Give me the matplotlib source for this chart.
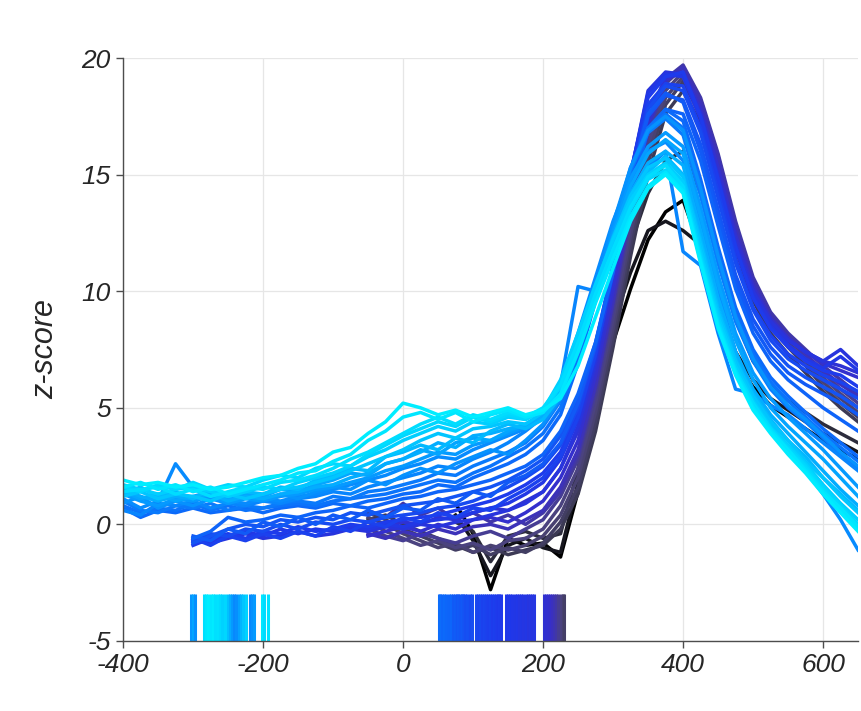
import matplotlib.pyplot as plt
import numpy as np
from matplotlib.colors import LinearSegmentedColormap

plt.rcParams['axes.unicode_minus'] = False
plt.rcParams['font.family'] = ['Liberation Sans', 'DejaVu Sans']

step = 25

# black traces, start at x = 75
black_start = 75
black_shade = [0.0, 0.04, 0.08]
black = [
    [0.9, -0.4, -2.8, -0.6, -0.9, -0.8, -1.4,
     1.4, 4.8, 7.8, 10.1, 12.2, 13.4, 13.9, 11.8, 9.2, 7.0, 5.9, 5.1, 4.6, 4.1, 3.6, 3.2, 2.8],
    [0.4, -0.7, -2.2, -0.9, -0.6, -1.0, -1.2,
     1.8, 5.4, 8.6, 10.8, 12.6, 13.0, 12.6, 12.0, 9.6, 7.4, 6.2, 5.4, 4.9, 4.4, 3.9, 3.5, 3.1],
    [0.1, -0.3, -1.6, -0.5, -0.3, -0.6, -0.4,
     2.4, 6.0, 9.2, 12.0, 14.2, 15.6, 16.0, 14.2, 11.4, 8.8, 7.0, 6.0, 5.3, 4.8, 4.3, 3.9, 3.5],
]

# purple traces, start at x = -50
purple_start = -50
purple_shade = [0.12, 0.15, 0.18, 0.21, 0.24, 0.27, 0.30, 0.34, 0.37]
purple = [
    [0.2, 0.4, 0.0, -0.3, -0.6, -0.9, -1.2, -1.0, -1.3, -1.1, -0.9,
     -0.2, 1.3, 4.0, 7.6, 11.5, 15.0, 17.6, 18.6, 17.2, 14.8, 11.8, 9.6, 8.2, 7.3, 6.5, 5.7, 5.0, 4.4],
    [0.5, 0.2, -0.2, -0.5, -0.8, -1.1, -0.9, -1.3, -1.0, -1.2, -0.8,
     0.1, 1.6, 4.4, 8.0, 12.0, 15.5, 18.0, 19.0, 17.5, 15.1, 12.1, 9.9, 8.5, 7.6, 6.8, 5.9, 5.2, 4.6],
    [0.3, 0.0, -0.4, -0.7, -1.0, -0.8, -1.2, -0.9, -1.1, -0.9, -0.5,
     0.4, 2.0, 4.8, 8.4, 12.4, 15.9, 18.3, 19.2, 17.8, 15.4, 12.4, 10.1, 8.7, 7.8, 7.0, 6.1, 5.4, 4.8],
    [0.1, -0.3, -0.6, -0.9, -0.7, -1.0, -0.8, -1.1, -0.7, -0.6, -0.2,
     0.8, 2.4, 5.2, 8.8, 12.8, 16.3, 18.6, 19.4, 18.0, 15.6, 12.6, 10.3, 8.9, 8.0, 7.2, 6.3, 5.6, 5.0],
    [-0.2, -0.5, -0.7, -0.4, -0.6, -0.8, -0.5, -0.3, -0.6, -0.2, 0.2,
     1.2, 2.8, 5.6, 9.2, 13.2, 16.7, 18.9, 19.6, 18.2, 15.8, 12.8, 10.4, 9.0, 8.1, 7.3, 6.5, 5.8, 5.2],
    [0.6, 0.3, 0.9, 0.4, 0.7, 0.2, 0.5, 0.1, 0.4, 0.0, 0.5,
     1.4, 3.0, 5.9, 9.5, 13.5, 16.9, 19.1, 19.7, 18.3, 15.9, 13.0, 10.6, 9.1, 8.2, 7.5, 6.8, 6.2, 5.6],
    [-0.4, -0.6, -0.3, -0.5, -0.2, -0.4, -0.1, 0.0, -0.2, 0.2, 0.6,
     1.6, 3.2, 6.0, 9.6, 13.6, 17.0, 19.0, 19.6, 18.1, 15.7, 12.7, 10.4, 8.9, 8.0, 7.3, 6.6, 6.0, 5.5],
    [-0.5, -0.3, -0.1, -0.3, 0.0, -0.2, 0.2, 0.3, 0.1, 0.5, 1.0,
     2.0, 3.6, 6.4, 10.0, 13.9, 17.2, 19.1, 19.4, 17.8, 15.3, 12.4, 10.2, 8.8, 8.0, 7.4, 6.9, 6.6, 6.3],
    [-0.3, -0.1, 0.1, 0.0, 0.3, 0.2, 0.5, 0.7, 0.6, 1.0, 1.4,
     2.4, 4.0, 6.8, 10.4, 14.2, 17.4, 19.2, 19.3, 17.6, 15.0, 12.2, 10.0, 8.7, 7.9, 7.4, 7.0, 6.8, 6.5],
]

# blue traces, start at x = -300
blue_start = -300
blue_shade = [0.40, 0.43, 0.46, 0.48, 0.51, 0.54, 0.56, 0.59]
blue = [
    [-0.7, -0.8, -0.6, -0.4, -0.6, -0.5, -0.3, -0.5, -0.4, -0.2, -0.3, -0.1, -0.2,
     0.0, -0.1, 0.1, 0.2, 0.4, 0.6, 0.9, 1.4,
     2.4, 4.2, 7.0, 10.8, 15.0, 18.6, 19.4, 19.3, 17.6, 14.9, 12.0, 10.0, 8.7, 7.9, 7.4, 7.0, 7.5, 6.8],
    [-0.8, -0.7, -0.5, -0.3, -0.5, -0.2, -0.4, -0.2, -0.3, -0.1, -0.2, 0.0, -0.1,
     0.1, 0.2, 0.3, 0.5, 0.7, 0.9, 1.3, 1.8,
     2.8, 4.5, 7.2, 10.9, 15.0, 18.5, 19.3, 19.2, 17.4, 14.7, 11.8, 9.8, 8.5, 7.7, 7.1, 6.7, 7.2, 6.6],
    [-0.9, -0.6, -0.4, -0.6, -0.3, -0.4, -0.1, -0.3, -0.2, 0.0, -0.1, 0.1, 0.2,
     0.3, 0.4, 0.6, 0.8, 1.0, 1.3, 1.7, 2.2,
     3.1, 4.8, 7.5, 11.1, 15.1, 18.3, 19.2, 19.4, 17.5, 14.8, 11.9, 9.7, 8.4, 7.6, 7.0, 6.6, 6.4, 5.9],
    [-0.6, -0.9, -0.5, -0.7, -0.4, -0.6, -0.3, -0.5, -0.1, -0.3, 0.1, -0.1, 0.3,
     0.1, 0.5, 0.3, 0.7, 0.6, 1.1, 1.5, 2.0,
     2.9, 4.6, 7.3, 10.8, 14.7, 18.0, 18.9, 18.8, 17.0, 14.3, 11.4, 9.3, 8.1, 7.3, 6.8, 6.4, 6.1, 5.7],
    [-0.7, -0.4, -0.5, -0.2, -0.3, 0.0, -0.2, 0.1, 0.0, 0.2, 0.1, 0.3, 0.4,
     0.5, 0.7, 0.8, 1.0, 1.3, 1.6, 2.0, 2.5,
     3.4, 5.0, 7.6, 11.0, 14.8, 17.8, 18.8, 18.6, 16.8, 14.0, 11.2, 9.2, 7.9, 7.1, 6.6, 6.2, 5.8, 5.4],
    [-0.8, -0.5, -0.2, 0.0, -0.1, 0.2, 0.1, 0.3, 0.2, 0.5, 0.4, 0.6, 0.8,
     0.9, 1.0, 1.2, 1.4, 1.6, 1.9, 2.3, 2.8,
     3.8, 5.4, 7.8, 11.0, 14.6, 17.5, 18.4, 18.2, 16.3, 13.5, 10.7, 8.8, 7.6, 6.8, 6.3, 5.9, 5.5, 5.0],
    [-0.5, -0.7, -0.2, -0.4, 0.1, -0.1, 0.3, 0.0, 0.4, 0.2, 0.6, 0.3, 0.7,
     0.6, 1.1, 0.9, 1.4, 1.2, 1.8, 2.1, 2.6,
     3.5, 5.2, 7.7, 11.1, 14.8, 17.6, 18.5, 18.1, 16.0, 13.2, 10.4, 8.5, 7.3, 6.5, 6.0, 5.6, 5.2, 4.7],
    [-0.6, -0.3, 0.3, 0.1, 0.2, 0.4, 0.3, 0.5, 0.6, 0.8, 0.7, 0.9, 1.1,
     1.2, 1.4, 1.5, 1.7, 1.9, 2.2, 2.5, 3.0,
     4.0, 5.6, 7.8, 10.8, 14.2, 16.9, 17.8, 17.6, 15.6, 12.8, 10.1, 8.2, 7.0, 6.2, 5.6, 5.0, 4.5, 4.0],
]

# mid blue traces, start at x = -400
mid_start = -400
mid_shade = [0.61, 0.64, 0.66, 0.69, 0.71, 0.73, 0.75, 0.78]
mid = [
    [0.7, 0.3, 0.6, 0.5, 0.7, 0.5, 0.6, 0.7, 0.5, 0.7, 0.8, 0.7, 0.9, 0.8, 1.0, 1.1, 1.3, 1.4, 1.7, 1.6, 2.0, 2.3, 2.6, 3.0, 3.6,
     4.7, 6.9, 9.6, 12.5, 15.1, 17.0, 17.8, 17.3, 14.8, 11.9, 9.3, 7.5, 6.3, 5.5, 4.8, 4.1, 3.5, 2.9],
    [0.8, 0.5, 0.7, 0.6, 0.9, 0.6, 0.8, 0.6, 0.7, 0.8, 0.9, 0.8, 1.0, 1.1, 1.2, 1.3, 1.5, 1.7, 1.9, 1.8, 2.2, 2.5, 2.9, 3.3, 3.9,
     5.0, 7.2, 9.8, 12.7, 15.3, 17.0, 17.6, 17.0, 14.5, 11.6, 9.0, 7.3, 6.1, 5.3, 4.6, 3.9, 3.3, 2.7],
    [1.0, 0.6, 0.5, 0.8, 0.7, 0.9, 0.6, 0.8, 0.7, 0.9, 1.0, 0.9, 1.2, 1.1, 1.4, 1.5, 1.7, 1.9, 2.2, 2.1, 2.5, 2.8, 3.1, 3.5, 4.2,
     5.3, 7.4, 10.0, 12.8, 15.2, 16.8, 17.4, 16.7, 14.1, 11.2, 8.7, 7.0, 5.8, 5.0, 4.4, 3.7, 3.0, 2.4],
    [0.6, 0.4, 0.9, 0.8, 1.0, 0.7, 0.9, 0.8, 1.0, 0.9, 1.1, 1.2, 1.4, 1.3, 1.6, 1.8, 2.0, 2.2, 2.5, 2.4, 2.8, 3.1, 3.5, 4.0, 4.6,
     6.0, 10.2, 10.0, 12.0, 13.8, 15.3, 16.0, 11.7, 11.1, 8.2, 5.8, 5.6, 5.1, 4.7, 4.1, 3.5, 2.9, 2.3],
    [1.1, 0.7, 1.0, 2.6, 1.6, 1.2, 1.0, 0.9, 1.1, 1.0, 1.2, 1.3, 1.5, 1.7, 1.9, 2.1, 2.4, 2.6, 2.9, 2.8, 3.2, 3.5, 3.8, 4.1, 4.8,
     6.0, 8.2, 10.6, 13.0, 14.9, 16.0, 16.4, 15.6, 13.0, 10.0, 7.4, 5.6, 4.3, 3.3, 2.3, 1.3, 0.2, -1.1],
    [0.9, 1.2, 0.7, 1.0, 0.8, 1.1, 0.9, 1.2, 1.0, 1.3, 1.1, 1.4, 1.6, 1.5, 1.9, 1.7, 2.1, 2.4, 2.2, 2.6, 2.9, 3.2, 3.0, 3.6, 4.3,
     5.4, 7.5, 10.1, 12.9, 15.3, 16.9, 17.5, 16.9, 14.4, 11.5, 8.9, 7.1, 5.9, 5.1, 4.5, 3.8, 3.1, 2.5],
    [1.3, 1.0, 0.8, 1.1, 1.0, 1.2, 0.9, 1.1, 1.0, 1.2, 1.3, 1.5, 1.6, 1.8, 2.0, 2.3, 2.5, 2.8, 3.1, 3.0, 3.4, 3.6, 3.9, 4.2, 4.6,
     5.6, 7.6, 10.0, 12.6, 14.8, 16.2, 16.8, 16.2, 13.6, 10.7, 8.2, 6.5, 5.4, 4.6, 3.9, 3.2, 2.4, 1.6],
    [1.4, 1.1, 1.3, 1.0, 1.2, 1.4, 1.1, 1.3, 1.2, 1.5, 1.4, 1.7, 1.9, 2.2, 2.1, 2.6, 2.8, 3.2, 3.0, 3.5, 3.7, 3.6, 4.0, 4.3, 4.7,
     5.7, 7.6, 10.0, 12.4, 14.5, 15.9, 16.5, 15.9, 13.2, 10.3, 7.9, 6.2, 5.0, 4.2, 3.5, 2.8, 2.0, 1.2],
]

# cyan traces, start at x = -400
cyan_shade = [0.80, 0.83, 0.86, 0.89, 0.92, 0.94, 0.97, 1.0]
cyan = [
    [1.5, 1.2, 1.0, 1.2, 1.1, 1.3, 1.0, 1.2, 1.1, 1.3, 1.4, 1.6, 1.7, 2.0, 2.2, 2.6, 2.8, 3.1, 3.5, 3.3, 3.8, 3.9, 4.1, 4.2, 4.6,
     5.8, 7.8, 10.0, 12.2, 14.2, 15.5, 16.0, 15.4, 12.6, 9.7, 7.4, 5.8, 4.7, 3.9, 3.1, 2.3, 1.5, 0.8],
    [1.3, 1.6, 1.2, 1.4, 1.1, 1.5, 1.2, 1.4, 1.3, 1.6, 1.5, 1.9, 2.1, 2.4, 2.3, 2.9, 3.1, 3.4, 3.2, 3.7, 3.5, 4.0, 4.3, 4.1, 4.5,
     5.5, 7.4, 9.6, 11.9, 13.8, 15.1, 15.8, 15.0, 12.2, 9.3, 7.1, 5.6, 4.5, 3.6, 2.9, 2.0, 1.3, 0.6],
    [1.2, 1.4, 1.1, 1.3, 1.2, 1.0, 1.3, 1.1, 1.3, 1.5, 1.6, 1.8, 2.0, 2.3, 2.6, 2.9, 3.2, 3.6, 3.9, 3.7, 4.1, 4.2, 4.4, 4.3, 4.8,
     6.0, 8.0, 10.2, 12.3, 14.1, 15.3, 15.7, 14.9, 12.0, 9.1, 7.0, 5.5, 4.4, 3.6, 2.7, 2.0, 1.2, 0.5],
    [1.7, 1.5, 1.3, 1.5, 1.6, 1.4, 1.2, 1.4, 1.6, 1.5, 1.8, 2.0, 2.2, 2.5, 2.9, 3.2, 3.6, 3.9, 4.2, 4.0, 4.4, 4.3, 4.6, 4.5, 4.9,
     6.2, 8.2, 10.3, 12.2, 13.9, 15.0, 15.5, 14.7, 11.7, 8.9, 6.8, 5.3, 4.2, 3.4, 2.6, 1.7, 0.9, 0.2],
    [1.6, 1.4, 1.7, 1.5, 1.8, 1.5, 1.7, 1.6, 1.9, 2.1, 2.0, 2.4, 2.6, 2.5, 3.0, 3.4, 3.8, 4.1, 4.4, 4.2, 4.6, 4.4, 4.7, 4.5, 4.9,
     5.9, 7.7, 9.7, 11.7, 13.5, 14.8, 15.2, 14.4, 11.5, 8.7, 6.6, 5.1, 4.1, 3.3, 2.5, 1.6, 0.8, 0.0],
    [1.4, 1.5, 1.6, 1.3, 1.5, 1.2, 1.4, 1.6, 1.5, 1.8, 1.9, 2.1, 2.4, 2.8, 3.1, 3.5, 3.9, 4.3, 4.6, 4.3, 4.7, 4.5, 4.8, 4.6, 5.0,
     6.0, 7.8, 9.9, 11.8, 13.6, 14.9, 15.4, 14.5, 11.4, 8.6, 6.6, 5.2, 4.1, 3.2, 2.4, 1.5, 0.6, -0.2],
    [1.6, 1.8, 1.5, 1.7, 1.4, 1.6, 1.3, 1.5, 1.7, 1.9, 2.2, 2.3, 2.7, 3.0, 3.6, 4.0, 4.6, 4.8, 4.5, 4.8, 4.4, 4.7, 4.9, 4.6, 4.8,
     5.6, 7.4, 9.5, 11.4, 13.2, 14.5, 15.1, 14.3, 11.3, 8.5, 6.5, 5.0, 4.0, 3.2, 2.3, 1.4, 0.7, -0.1],
    [1.9, 1.7, 1.8, 1.6, 1.7, 1.5, 1.6, 1.8, 2.0, 2.1, 2.4, 2.6, 3.1, 3.3, 3.9, 4.4, 5.2, 5.0, 4.7, 4.9, 4.6, 4.8, 5.0, 4.7, 4.9,
     5.4, 6.8, 8.9, 11.0, 13.0, 14.4, 15.0, 14.2, 11.2, 8.4, 6.4, 4.9, 3.9, 3.0, 2.2, 1.3, 0.5, -0.3],
]

# event marks along the bottom
mark_x = [-303, -300, -297, -284, -281, -278, -275, -272, -268, -265, -262, -259,
          -254, -250, -247, -244, -241, -238, -235, -232, -228, -224, -219, -216, -213,
          -201, -198, -193,
          51, 53, 56, 59, 62, 65, 68, 71, 74, 77, 79, 81, 84, 86, 89, 92, 95, 98,
          104, 107, 110, 113, 116, 119, 121, 124, 127, 130, 133, 136, 137, 140,
          147, 150, 153, 156, 160, 163, 166, 169, 172, 175, 178, 181, 184, 187,
          201, 204, 207, 210, 213, 216, 219, 222, 225, 228, 230]
mark_shade = [0.74, 0.78, 0.72, 0.95, 0.98, 1.0, 0.97, 0.99, 0.95, 0.96, 0.93, 0.9,
              0.92, 0.85, 0.8, 0.75, 0.7, 0.72, 0.77, 0.82, 0.86, 0.9, 0.7, 0.73, 0.75,
              0.98, 0.93, 0.96,
              0.62, 0.62, 0.6, 0.61, 0.6, 0.59, 0.6, 0.56, 0.57, 0.55, 0.56, 0.55, 0.56, 0.54, 0.52, 0.53, 0.51, 0.52,
              0.5, 0.49, 0.5, 0.48, 0.49, 0.48, 0.47, 0.48, 0.46, 0.47, 0.46, 0.45, 0.46, 0.45,
              0.45, 0.44, 0.45, 0.44, 0.43, 0.44, 0.42, 0.43, 0.42, 0.43, 0.41, 0.42, 0.41, 0.42,
              0.36, 0.35, 0.34, 0.33, 0.31, 0.29, 0.27, 0.24, 0.21, 0.18, 0.16]

cmap = LinearSegmentedColormap.from_list("trace", [
    (0.00, (0.0, 0.0, 0.0)),
    (0.10, (0.22, 0.22, 0.30)),
    (0.20, (0.30, 0.27, 0.48)),
    (0.32, (0.22, 0.18, 0.78)),
    (0.45, (0.12, 0.22, 0.92)),
    (0.60, (0.05, 0.40, 0.98)),
    (0.75, (0.02, 0.60, 1.0)),
    (0.88, (0.0, 0.80, 1.0)),
    (1.00, (0.0, 0.93, 1.0)),
])

fig = plt.figure(figsize=(8.61, 7.11), dpi=100)
ax = fig.add_axes([0.1429, 0.0985, 0.8537, 0.8199])

groups = [(black_start, black_shade, black), (purple_start, purple_shade, purple),
          (blue_start, blue_shade, blue), (mid_start, mid_shade, mid),
          (mid_start, cyan_shade, cyan)]
for start, shades, traces in groups:
    for s, vals in zip(shades, traces):
        if start + step * (len(vals) - 1) != 650:
            raise ValueError("bad trace length %d from %d" % (len(vals), start))
        xs = start + step * np.arange(len(vals))
        ax.plot(xs, vals, color=cmap(s), lw=2.5)

ax.vlines(mark_x, -5, -3, colors=[cmap(s) for s in mark_shade], lw=2.2)

ax.set_xlim(-400, 650)
ax.set_ylim(-5, 20)
ax.set_xticks([-400, -200, 0, 200, 400, 600])
ax.set_yticks([-5, 0, 5, 10, 15, 20])
ax.grid(True, color='0.9', lw=0.9)
ax.set_axisbelow(True)
for side in ['top', 'right']:
    ax.spines[side].set_visible(False)
for side in ['left', 'bottom']:
    ax.spines[side].set_color('0.3')
    ax.spines[side].set_linewidth(1.0)
ax.tick_params(direction='out', length=5, width=1.0, color='0.3', labelcolor='0.15', labelsize=19, pad=4)
for lab in ax.get_xticklabels() + ax.get_yticklabels():
    lab.set_fontstyle('italic')
ax.set_ylabel('z-score', fontsize=22, fontstyle='italic', color='0.15', labelpad=15)

fig.savefig('out.png', dpi=100)
